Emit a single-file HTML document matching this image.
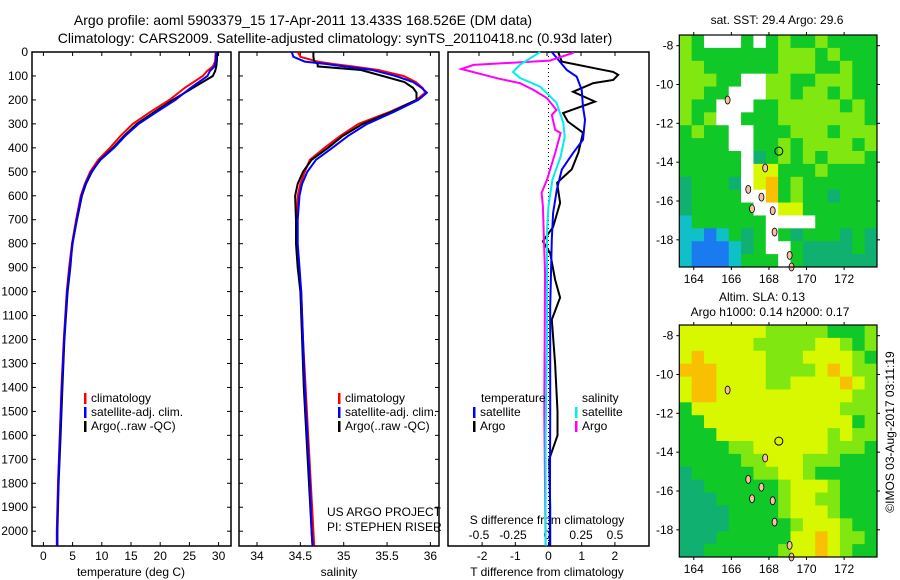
<!DOCTYPE html>
<html><head><meta charset="utf-8"><style>
body{margin:0;background:#fff}
svg{display:block;font-family:"Liberation Sans",sans-serif}
text{fill:#000}
</style></head><body>
<svg id="fig" width="900" height="580" viewBox="0 0 900 580" xmlns="http://www.w3.org/2000/svg">
<rect width="900" height="580" fill="#fff"/>
<text x="303" y="25" font-size="14" text-anchor="middle">Argo profile: aoml 5903379_15 17-Apr-2011 13.433S 168.526E (DM data)</text>
<text x="335" y="43" font-size="14" text-anchor="middle">Climatology: CARS2009. Satellite-adjusted climatology: synTS_20110418.nc (0.93d later)</text>
<g id="g"></g>
</svg>
<script>
// ---------- data ----------
const depthTicks=[0,100,200,300,400,500,600,700,800,900,1000,1100,1200,1300,1400,1500,1600,1700,1800,1900,2000];
const tempTicks=[0,5,10,15,20,25,30];
const salTicks=[34,34.5,35,35.5,36];
const tdiffTicks=[-2,-1,0,1,2];
const sdiffTicks=[-0.5,-0.25,0,0.25,0.5];
const sdiffTickLabels=["-0.5","-0.25","0","0.25","0.5"];

const tClimDepth=[0,40,60,80,100,150,200,250,300,350,400,450,500,550,600,700,800,900,1000,1200,1400,1600,1800,2000,2060];
const tClim=[29.5,29.4,29,28,27.3,24.2,21.6,18.3,15.3,13.2,11.4,9.4,8,7.1,6.4,5.6,4.9,4.4,4,3.5,3.1,2.8,2.5,2.3,2.3];
const tSat=[29.6,29.5,29.3,28.5,28.1,25.2,22.6,19.4,16.3,14.0,12.1,9.8,8.2,7.2,6.5,5.7,5.0,4.5,4.05,3.55,3.15,2.85,2.55,2.35,2.35];
const tArgo=[29.8,29.7,29.6,29.4,29.0,25.6,22.2,19.0,16.0,13.8,11.9,9.7,8.3,7.3,6.6,5.75,4.95,4.6,4.15,3.6,3.25,2.95,2.6,2.4,2.4];

const sDepth=[0,20,40,50,60,75,100,125,150,170,200,250,300,350,400,450,500,550,600,700,800,900,1000,1200,1400,1600,1800,2000,2060];
const sClim=[34.47,34.5,34.7,34.88,35.1,35.4,35.69,35.83,35.91,35.94,35.84,35.53,35.17,34.96,34.78,34.61,34.55,34.5,34.47,34.46,34.46,34.48,34.51,34.53,34.56,34.59,34.62,34.65,34.66];
const sSat=[34.4,34.42,34.55,34.8,35.0,35.33,35.6,35.8,35.9,35.96,35.86,35.58,35.27,35.05,34.87,34.68,34.58,34.52,34.49,34.47,34.47,34.49,34.51,34.53,34.55,34.58,34.61,34.63,34.64];
const sArgo=[34.65,34.65,34.66,34.7,34.7,35.2,35.45,35.7,35.8,35.84,35.84,35.55,35.22,34.99,34.82,34.63,34.53,34.47,34.44,34.45,34.45,34.47,34.5,34.52,34.54,34.57,34.6,34.63,34.64];

const dTArgoDepth=[0,4,40,72,83,95,117,130,166,207,255,290,337,420,490,546,630,730,790,840,950,1025,1117,1300,1500,1600,1700,1900,2060];
const dTArgo=[0.3,0.3,0.4,1.55,1.95,2.1,1.95,1.35,0.74,1.4,0.44,0.58,1.04,0.9,0.7,0.26,0.35,0.14,-0.17,0.05,0.2,0.35,0.1,0.2,0.27,0.27,0.02,0.05,0.05];
const dTSatDepth=[0,75,103,158,229,283,366,421,491,575,672,783,1062,1500,2060];
const dTSat=[0.1,0.55,0.85,1.0,1.04,1.1,1.04,0.74,0.4,0.25,0.14,0.1,0.05,0.05,0.04];
const dSSatDepth=[0,54,83,108,145,212,296,354,437,533,645,754,1200,1600,2060];
const dSSat=[-0.05,-0.2,-0.25,-0.2,-0.05,0.07,0.12,0.13,0.1,0.04,0.01,0,0,-0.01,-0.01];
const dSArgoDepth=[0,4,36,54,71,112,130,158,193,242,262,325,338,421,533,588,645,920,1500,2060];
const dSArgo=[0.19,0.19,0.02,-0.54,-0.63,-0.35,-0.2,-0.1,0,0.07,0.035,0.06,0.1,0.06,0,-0.04,-0.03,-0.015,-0.02,-0.01];

const latTicks=[-8,-10,-12,-14,-16,-18];
const lonTicks=[164,166,168,170,172];
const sstGrid=[
"lgwwwgwglgglgggg","lggggggglllglggg","llgggggglllgglgg","lllggwwllgglllgg",
"llggwwwllgllglgg","lggwwwgglllllglg","lglwwggglllllllg","glggwwggglllglll",
"ggggwwgglgllllgl","gggggwtglglglllg","gggggwyyggglgggg","tgggtwyoglgggggg",
"tggggwwoglggtggg","tgggggwwyygggggg","cggggggwwwwggggg","ccbcgtgwgtgggtgt",
"cbbbctgwwgttttgt","cbbbcgggwgtttttt"];
const slaGrid=[
"yyyyyyylllllgggl","yyyyyylllllyylgl","yoyyyyylllyyyylg","oooyyyyllllyoyll",
"yooyyyyllyyyyoyl","yooyyyyyyyyyyyll","gyyyyyyyyyyyylll","ggyyyyyyyyyyyygl",
"gggyyyyyyyyylyll","ggggllyyyyyylllg","gggggllyyylllggg","tgggggllyylggggg",
"ttgggggglyyylggg","tttggggglyyllggg","ttttgggglyyylggg","ttttggggglyyylgg",
"tttggggggyyoyllg","ttgggggglyyoylgg"];
const islandLon=[166.9,167.1,167.6,168.2,169.1,168.3,169.2,167.8,165.8];
const islandLat=[-15.4,-16.4,-15.8,-16.5,-18.8,-17.6,-19.4,-14.3,-10.8];
const argoLon=168.526, argoLat=-13.433;

// ---------- helpers ----------
const NS="http://www.w3.org/2000/svg";
const G=document.getElementById('g');
function mk(tag,attrs,parent){const e=document.createElementNS(NS,tag);for(const k in attrs)e.setAttribute(k,attrs[k]);(parent||G).appendChild(e);return e;}
function txt(x,y,s,size,anchor,parent){const t=mk('text',{x:x,y:y,'font-size':size||12,'text-anchor':anchor||'start'},parent);t.textContent=s;return t;}
const yD=d=>52+d*0.2396;
const xT=v=>43.4+v*5.84;
const xS=v=>257+(v-34)*86.7;
const xDT=v=>548.5+v*33.2;
const xDS=v=>547+v*136;
const PB=546;

function panel(x0,x1,name){
  const r=mk('rect',{x:x0,y:52,width:x1-x0,height:PB-52,fill:'none',stroke:'#000','stroke-width':1.5});
  
  
}
function line(xs,ds,fx,color,w,name){
  const p=xs.map((v,i)=>fx(v).toFixed(1)+','+yD(ds[i]).toFixed(1)).join(' ');
  const e=mk('polyline',{points:p,fill:'none',stroke:color,'stroke-width':w||2});
  
  
}
panel(32,231,'temperature-panel');
panel(239,439,'salinity-panel');
panel(448,649,'difference-panel');

depthTicks.forEach(d=>{
  const y=yD(d);
  const t=txt(28,y+4,String(d),12,'end');
  
  
  [[32,36],[227,231],[239,243],[435,439]].forEach(a=>mk('line',{x1:a[0],x2:a[1],y1:y,y2:y,stroke:'#000'}));
});
function xticks(vals,fx,labels,ly,name){
  vals.forEach((v,i)=>{
    const x=fx(v);
    mk('line',{x1:x,x2:x,y1:PB,y2:PB-4,stroke:'#000'});
    mk('line',{x1:x,x2:x,y1:52,y2:56,stroke:'#000'});
    const t=txt(x,ly,labels?labels[i]:String(v),12,'middle');
    
    
  });
}
xticks(tempTicks,xT,null,560,'temperature-tick-label');
xticks(salTicks,xS,null,560,'salinity-tick-label');
tdiffTicks.forEach(v=>{const x=xDT(v);mk('line',{x1:x,x2:x,y1:PB,y2:PB-4,stroke:'#000'});
  const t=txt(x,560,String(v),12,'middle');
  
  });
sdiffTicks.forEach((v,i)=>{const x=xDS(v);mk('line',{x1:x,x2:x,y1:52,y2:56,stroke:'#000'});
  const t=txt(x,539,sdiffTickLabels[i],12,'middle');
  
  });
[['temperature (deg C)',131,'temperature-axis-title'],['salinity',339,'salinity-axis-title'],['T difference from climatology',547,'tdiff-axis-title']].forEach(a=>{
  const t=txt(a[1],576,a[0],12,'middle');
  
  });
{const t=txt(547,524,'S difference from climatology',12,'middle');

}

mk('line',{x1:xDT(0),x2:xDT(0),y1:52,y2:PB,stroke:'#000','stroke-dasharray':'1,3'});

line(tClim,tClimDepth,xT,'#f00',2,'temp-climatology-line');
line(tArgo,tClimDepth,xT,'#000',2,'temp-argo-line');
line(tSat,tClimDepth,xT,'#00f',2,'temp-satellite-line');
line(sClim,sDepth,xS,'#f00',2,'sal-climatology-line');
line(sArgo,sDepth,xS,'#000',2,'sal-argo-line');
line(sSat,sDepth,xS,'#00f',2,'sal-satellite-line');
line(dTArgo,dTArgoDepth,xDT,'#000',2,'tdiff-argo-line');
line(dTSat,dTSatDepth,xDT,'#00f',2,'tdiff-satellite-line');
line(dSArgo,dSArgoDepth,xDS,'#f0f',2,'sdiff-argo-line');
line(dSSat,dSSatDepth,xDS,'#0ee',2,'sdiff-satellite-line');

function leg(x,y,color,label,name){
  mk('rect',{x:x,y:y-9,width:2.5,height:11,fill:color});
  const t=txt(x+7,y,label,12);
  
  
}
leg(84,402,'#f00','climatology','legend-climatology');
leg(84,416,'#00f','satellite-adj. clim.','legend-satellite');
leg(84,430,'#000','Argo(..raw -QC)','legend-argo');
leg(338,402,'#f00','climatology','legend-climatology-2');
leg(338,416,'#00f','satellite-adj. clim.','legend-satellite-2');
leg(338,430,'#000','Argo(..raw -QC)','legend-argo-2');
{const t=txt(481,402,'temperature',12);}
{const t=txt(582,402,'salinity',12);}
leg(473,416,'#00f','satellite','legend-t-satellite');
leg(473,430,'#000','Argo','legend-t-argo');
leg(575,416,'#0ee','satellite','legend-s-satellite');
leg(575,430,'#f0f','Argo','legend-s-argo');
{const t=txt(327,516,'US ARGO PROJECT',12);}
{const t=txt(327,531,'PI: STEPHEN RISER',12);}

// ---------- maps ----------
const pal={b:'#1a7af0',c:'#10c0c8',t:'#10b070',g:'#10c828',l:'#80e810',y:'#d8f800',o:'#f8c000',w:'#ffffff'};
const MX0=679.3,MX1=877,LON0=163.23,LON1=173.75,LAT0=-7.45,LAT1=-19.4;
function drawMap(grid,oy,name){
  const top=35+oy,bot=267+oy;
  const xL=lon=>MX0+(lon-LON0)/(LON1-LON0)*(MX1-MX0);
  const yL=lat=>top+(lat-LAT0)/(LAT1-LAT0)*(bot-top);
  const g=mk('g',{});
  
  
  const rows=grid.length,cols=grid[0].length;
  const cw=(MX1-MX0)/cols,ch=(bot-top)/rows;
  grid.forEach((row,r)=>{for(let c=0;c<cols;c++){
    mk('rect',{x:(MX0+c*cw).toFixed(2),y:(top+r*ch).toFixed(2),width:(cw+0.5).toFixed(2),height:(ch+0.5).toFixed(2),fill:pal[row[c]]||'#10c828'},g);
  }});
  islandLon.forEach((lon,i)=>{
    mk('ellipse',{cx:xL(lon),cy:yL(islandLat[i]),rx:2.5,ry:4,fill:'#f8c0a0',stroke:'#000','stroke-width':0.8},g);
  });
  mk('circle',{cx:xL(argoLon),cy:yL(argoLat),r:4,fill:'none',stroke:'#000','stroke-width':1},g);
  mk('rect',{x:MX0,y:top,width:MX1-MX0,height:bot-top,fill:'none',stroke:'#000','stroke-width':1.2},g);
  latTicks.forEach(l=>{const y=yL(l);
    mk('line',{x1:MX0-3,x2:MX0,y1:y,y2:y,stroke:'#000'},g);
    mk('line',{x1:MX1,x2:MX1+3,y1:y,y2:y,stroke:'#000'},g);
    const t=txt(MX0-6,y+4,String(l),12,'end',g);
    
    });
  lonTicks.forEach(l=>{const x=xL(l);
    mk('line',{x1:x,x2:x,y1:bot,y2:bot+3,stroke:'#000'},g);
    mk('line',{x1:x,x2:x,y1:top-3,y2:top,stroke:'#000'},g);
    const t=txt(x,bot+16,String(l),12,'middle',g);
    
    });
}
drawMap(sstGrid,0,'sst-map');
drawMap(slaGrid,290,'sla-map');
{const t=txt(777,24,'sat. SST: 29.4 Argo: 29.6',12,'middle');}
{const t=txt(762,301,'Altim. SLA: 0.13',12,'middle');}
{const t=txt(770,316,'Argo h1000: 0.14 h2000: 0.17',12,'middle');}
{const t=txt(0,0,'©IMOS 03-Aug-2017 03:11:19',12,'middle');t.setAttribute('transform','translate(894,432) rotate(-90)');}
</script>
</body></html>
